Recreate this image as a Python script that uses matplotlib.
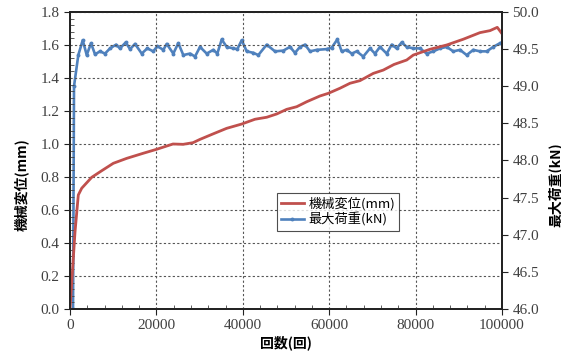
import matplotlib
matplotlib.use("Agg")
import matplotlib.pyplot as plt
from matplotlib.ticker import MultipleLocator

# displacement (mm) vs cycles
disp_n = [0, 1160, 1920, 2710, 5020, 7340, 10020, 13130, 16970, 20070, 23840,
          26200, 28470, 30090, 33100, 36270, 39750, 42820, 45530, 47850, 50160,
          52480, 54790, 57870, 59790, 62500, 64810, 67130, 70210, 72520, 75000,
          77940, 79470, 83330, 87200, 91040, 94910, 97220, 98910, 100100]
disp_mm = [0.0, 0.468, 0.691, 0.732, 0.798, 0.838, 0.883, 0.913, 0.944, 0.968, 1.000,
           0.998, 1.008, 1.028, 1.061, 1.095, 1.121, 1.150, 1.162, 1.182, 1.210,
           1.226, 1.256, 1.291, 1.307, 1.338, 1.368, 1.384, 1.428, 1.448, 1.482,
           1.509, 1.539, 1.574, 1.600, 1.635, 1.675, 1.687, 1.707, 1.665]

# max load (kN) vs cycles
load_n = [700, 925, 1920, 2940, 3870, 4860, 5790, 6940, 8100, 9260, 10650, 11570,
          12890, 13890, 15050, 16600, 17890, 19280, 20210, 21600, 22380, 23910,
          25070, 26230, 27780, 28940, 30090, 31640, 33170, 34100, 35120, 36270,
          37800, 38730, 39750, 40900, 42430, 43590, 45530, 47450, 49380, 50930,
          52080, 53240, 54400, 55560, 57110, 59420, 60580, 61880, 62890, 64050,
          65210, 66370, 67890, 69440, 70600, 71760, 73310, 74470, 75620, 76780,
          77940, 79470, 81020, 82570, 84100, 85650, 87200, 88730, 90280, 91830,
          93360, 94910, 96460, 97990, 99540]
load_kn = [46.0, 49.00, 49.42, 49.62, 49.42, 49.58, 49.43, 49.47, 49.44, 49.51, 49.56, 49.51,
           49.59, 49.50, 49.57, 49.44, 49.51, 49.47, 49.54, 49.49, 49.57, 49.44,
           49.58, 49.42, 49.44, 49.40, 49.53, 49.44, 49.49, 49.44, 49.63, 49.53,
           49.51, 49.50, 49.62, 49.47, 49.45, 49.42, 49.56, 49.47, 49.48, 49.53,
           49.45, 49.53, 49.56, 49.47, 49.49, 49.50, 49.52, 49.63, 49.47, 49.49,
           49.44, 49.47, 49.40, 49.51, 49.44, 49.53, 49.44, 49.56, 49.51, 49.59,
           49.53, 49.51, 49.51, 49.44, 49.47, 49.51, 49.53, 49.47, 49.49, 49.42,
           49.49, 49.47, 49.47, 49.53, 49.58]

red = '#C0504D'
blue = '#4F81BD'
cjk = ['Noto Sans CJK JP', 'DejaVu Sans']
tickfont = 'Liberation Serif'

fig = plt.figure(figsize=(5.61, 3.55), dpi=100)
ax = fig.add_axes([0.1248, 0.1296, 0.770, 0.8366])
ax2 = ax.twinx()

l1, = ax.plot(disp_n, disp_mm, color=red, lw=2, label='機械変位(mm)')
l2, = ax2.plot(load_n, load_kn, color=blue, lw=1.9, marker='o', ms=1.8,
               label='最大荷重(kN)')

ax.set_xlim(0, 100000)
ax.set_ylim(0, 1.8)
ax2.set_ylim(46, 50)

ax.xaxis.set_major_locator(MultipleLocator(20000))
ax.xaxis.set_minor_locator(MultipleLocator(4000))
ax.yaxis.set_major_locator(MultipleLocator(0.2))
ax.yaxis.set_minor_locator(MultipleLocator(0.04))
ax2.yaxis.set_major_locator(MultipleLocator(0.5))

ax.grid(True, which='major', linestyle=(0, (2, 2)), color='#555555', lw=0.8)
ax.set_axisbelow(True)

ax.set_yticks([i * 0.2 for i in range(10)])
ax.set_yticklabels(['%.1f' % (i * 0.2) for i in range(10)])
ax2.set_yticks([46 + i * 0.5 for i in range(9)])
ax2.set_yticklabels(['%.1f' % (46 + i * 0.5) for i in range(9)])

for a in (ax, ax2):
    for lab in a.get_xticklabels() + a.get_yticklabels():
        lab.set_fontfamily(tickfont)
        lab.set_fontsize(11)
        lab.set_color('#404040')
    for s in a.spines.values():
        s.set_linewidth(1.3)
        s.set_color('#222222')

ax.tick_params(axis='both', which='major', direction='out', length=4, color='#222222')
ax.tick_params(axis='both', which='minor', direction='in', length=3, color='#444444')
ax2.tick_params(axis='y', which='major', direction='out', length=4, color='#222222')

ax.set_xlabel('回数(回)', fontfamily=cjk, fontweight='bold', fontsize=10, labelpad=2)
ax.set_ylabel('機械変位(mm)', fontfamily=cjk, fontweight='bold', fontsize=10)
ax2.set_ylabel('最大荷重(kN)', fontfamily=cjk, fontweight='bold', fontsize=10,
               rotation=90)
ax.yaxis.set_label_coords(-0.095, 0.42)
ax2.yaxis.set_label_coords(1.105, 0.42)

leg = ax.legend([l1, l2], ['機械変位(mm)', '最大荷重(kN)'], loc='lower left',
                bbox_to_anchor=(0.463, 0.242), prop={'family': cjk, 'size': 9.5},
                frameon=True, fancybox=False, edgecolor='#222222',
                handlelength=1.8, borderpad=0.3, labelspacing=0.15,
                handletextpad=0.3)
leg.get_frame().set_linewidth(0.8)
leg.set_zorder(10)
ax.set_zorder(ax2.get_zorder() + 1)
ax.patch.set_visible(False)

fig.savefig('out.png', dpi=100)
